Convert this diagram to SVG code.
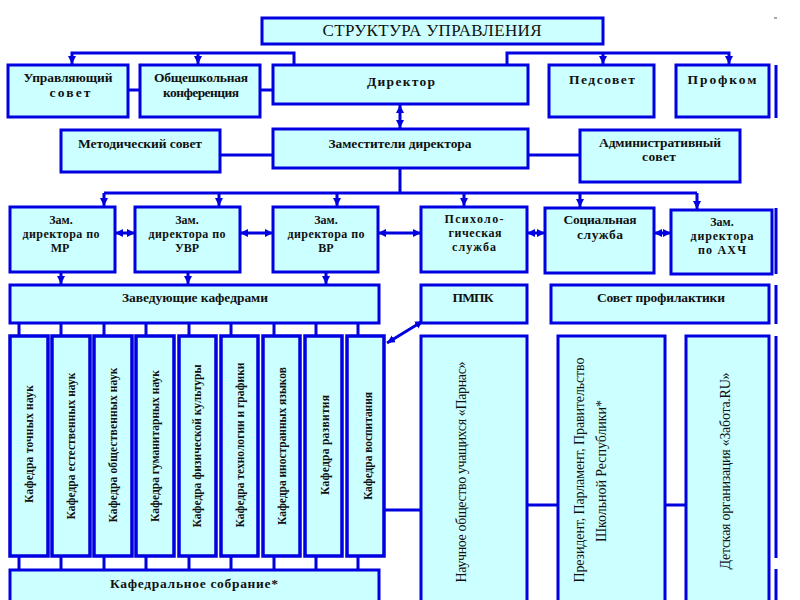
<svg xmlns="http://www.w3.org/2000/svg" width="800" height="600" viewBox="0 0 800 600">
<defs>
<marker id="ah" markerUnits="userSpaceOnUse" markerWidth="9" markerHeight="9" refX="8" refY="4" orient="auto-start-reverse">
<path d="M0,0 L8,4 L0,8 z" fill="#0000e0"/>
</marker>
<style>
.box{fill:#ccffff;stroke:#0000e0;stroke-width:3}
.col{fill:#ccffff;stroke:#0000e0;stroke-width:3.5}
.ln{fill:none;stroke:#0000e0;stroke-width:3}
.a1{marker-end:url(#ah)}
.a2{marker-start:url(#ah);marker-end:url(#ah)}
.b{font-family:"Liberation Serif","Times New Roman",serif;font-weight:bold;font-size:13.5px;text-anchor:middle;fill:#111}
.s{font-size:12px}
.k{font-family:"Liberation Serif","Times New Roman",serif;font-weight:bold;font-size:11.5px;text-anchor:middle;fill:#111}
.r{font-family:"Liberation Serif","Times New Roman",serif;font-size:14px;text-anchor:middle;fill:#111}
.t{font-family:"Liberation Serif","Times New Roman",serif;font-size:17px;text-anchor:middle;fill:#111}
</style>
</defs>
<rect width="800" height="600" fill="#ffffff"/>

<g id="connectors">
<path class="ln a1" d="M294,65 V53 H72 V64"/>
<path class="ln a1" d="M198,53 V64"/>
<path class="ln a1" d="M507,65 V53 H729 V64"/>
<path class="ln a1" d="M603,53 V64"/>
<path class="ln" d="M128,90 H140 M260,90 H273"/>
<path class="ln a2" d="M400,105 V128"/>
<path class="ln" d="M220,155 H273 M528,155 H580"/>
<path class="ln" d="M400,168 V193 M104,193 H697"/>
<path class="ln a1" d="M104,193 V206"/>
<path class="ln a1" d="M219,193 V206"/>
<path class="ln a1" d="M337,193 V206"/>
<path class="ln a1" d="M464,193 V206"/>
<path class="ln a1" d="M580,193 V207"/>
<path class="ln a1" d="M697,193 V209"/>
<path class="ln a2" d="M115,233 H135"/>
<path class="ln a2" d="M240,233 H273"/>
<path class="ln a2" d="M378,233 H421"/>
<path class="ln a2" d="M527,233 H545"/>
<path class="ln a2" d="M654,233 H671"/>
<path class="ln a1" d="M61,272 V284"/>
<path class="ln a1" d="M188,272 V284"/>
<path class="ln a1" d="M326,272 V284"/>
<path class="ln" d="M19,323 V336 M61,323 V336 M104,323 V336 M146,323 V336 M189,323 V336 M231,323 V336 M274,323 V336 M316,323 V336 M358,323 V336"/>
<path class="ln" d="M19,556 V570 M61,556 V570 M104,556 V570 M146,556 V570 M189,556 V570 M231,556 V570 M274,556 V570 M316,556 V570 M358,556 V570"/>
<path class="ln a2" d="M387,343 L423,321"/>
<path class="ln" d="M384,510 H421 M527,505 H558 M665,505 H686"/>
<path class="ln" d="M776,65 V118 M776,208 V274 M776,285 V324 M776,336 V558 M776,569 V600"/>
<path d="M774,18 H777" stroke="#555" stroke-width="1"/>
</g>

<g id="title"><rect class="box" x="262" y="18" width="341" height="26"/><text class="t" x="432" y="36" textLength="219">СТРУКТУРА УПРАВЛЕНИЯ</text></g>

<g id="upr"><rect class="box" x="8" y="65" width="120" height="52"/><text class="b" x="68" y="82" textLength="89">Управляющий</text><text class="b" x="70" y="97" textLength="41">совет</text></g>
<g id="konf"><rect class="box" x="140" y="65" width="120" height="52"/><text class="b" x="201" y="82" textLength="94">Общешкольная</text><text class="b" x="201" y="97" textLength="76">конференция</text></g>
<g id="dir"><rect class="box" x="273" y="65" width="255" height="39"/><text class="b" x="401" y="86" textLength="68">Директор</text></g>
<g id="ped"><rect class="box" x="549" y="65" width="105" height="52"/><text class="b" x="602" y="84" textLength="66">Педсовет</text></g>
<g id="prof"><rect class="box" x="676" y="65" width="93" height="52"/><text class="b" x="722" y="84" textLength="69">Профком</text></g>

<g id="met"><rect class="box" x="61" y="130" width="159" height="42"/><text class="b" x="140" y="148" textLength="124">Методический совет</text></g>
<g id="zam"><rect class="box" x="273" y="129" width="255" height="39"/><text class="b" x="400" y="148" textLength="143">Заместители директора</text></g>
<g id="adm"><rect class="box" x="580" y="130" width="160" height="52"/><text class="b" x="660" y="147" textLength="122">Административный</text><text class="b" x="659" y="161" textLength="34">совет</text></g>

<g id="mr"><rect class="box" x="10" y="207" width="105" height="65"/><text class="b s" x="61" y="224">Зам.</text><text class="b s" x="61" y="238" textLength="77">директора по</text><text class="b s" x="60" y="252">МР</text></g>
<g id="uvr"><rect class="box" x="135" y="207" width="105" height="65"/><text class="b s" x="187" y="224">Зам.</text><text class="b s" x="187" y="238" textLength="77">директора по</text><text class="b s" x="187" y="252">УВР</text></g>
<g id="vr"><rect class="box" x="273" y="207" width="105" height="65"/><text class="b s" x="326" y="224">Зам.</text><text class="b s" x="326" y="238" textLength="77">директора по</text><text class="b s" x="326" y="252">ВР</text></g>
<g id="psy"><rect class="box" x="421" y="207" width="106" height="65"/><text class="b s" x="474" y="223" textLength="59">Психоло-</text><text class="b s" x="475" y="237" textLength="53">гическая</text><text class="b s" x="474" y="251" textLength="44">служба</text></g>
<g id="soc"><rect class="box" x="545" y="208" width="109" height="65"/><text class="b" x="600" y="224" textLength="73">Социальная</text><text class="b" x="600" y="239" textLength="46">служба</text></g>
<g id="ahch"><rect class="box" x="671" y="210" width="101" height="64"/><text class="b s" x="722" y="226">Зам.</text><text class="b s" x="722" y="240" textLength="63">директора</text><text class="b s" x="722" y="254" textLength="48">по АХЧ</text></g>

<g id="zav"><rect class="box" x="10" y="285" width="369" height="38"/><text class="b" x="195" y="302" textLength="146">Заведующие кафедрами</text></g>
<g id="pmpk"><rect class="box" x="421" y="285" width="106" height="38"/><text class="b" x="473" y="302" textLength="41">ПМПК</text></g>
<g id="sovprof"><rect class="box" x="551" y="285" width="218" height="38"/><text class="b" x="661" y="302" textLength="128">Совет профилактики</text></g>

<g id="k1"><rect class="col" x="10" y="336" width="38" height="220"/><text class="k" transform="translate(33,444) rotate(-90)" textLength="118">Кафедра точных наук</text></g>
<g id="k2"><rect class="col" x="52" y="336" width="38" height="220"/><text class="k" transform="translate(75,446) rotate(-90)" textLength="147">Кафедра естественных наук</text></g>
<g id="k3"><rect class="col" x="94" y="336" width="38" height="220"/><text class="k" transform="translate(117,445) rotate(-90)" textLength="155">Кафедра общественных  наук</text></g>
<g id="k4"><rect class="col" x="136" y="336" width="38" height="220"/><text class="k" transform="translate(159,446) rotate(-90)" textLength="152">Кафедра гуманитарных наук</text></g>
<g id="k5"><rect class="col" x="179" y="336" width="37" height="220"/><text class="k" transform="translate(201,446) rotate(-90)" textLength="163">Кафедра физической культуры</text></g>
<g id="k6"><rect class="col" x="221" y="336" width="37" height="220"/><text class="k" transform="translate(244,445) rotate(-90)" textLength="165">Кафедра технологии и графики</text></g>
<g id="k7"><rect class="col" x="263" y="336" width="37" height="220"/><text class="k" transform="translate(286,446) rotate(-90)" textLength="158">Кафедра иностранных языков</text></g>
<g id="k8"><rect class="col" x="305" y="336" width="37" height="220"/><text class="k" transform="translate(329,445) rotate(-90)" textLength="100">Кафедра развития</text></g>
<g id="k9"><rect class="col" x="347" y="336" width="37" height="220"/><text class="k" transform="translate(372,446) rotate(-90)" textLength="108">Кафедра воспитания</text></g>

<g id="sobr"><rect class="box" x="10" y="570" width="369" height="40"/><text class="b" x="194" y="588" textLength="168">Кафедральное собрание*</text></g>

<g id="nou"><rect class="box" x="421" y="336" width="106" height="274"/><text class="r" transform="translate(466,472) rotate(-90)" textLength="221">Научное общество учащихся «Парнас»</text></g>
<g id="pres"><rect class="box" x="558" y="336" width="107" height="274"/><text class="r" transform="translate(584,470) rotate(-90)" textLength="225">Президент, Парламент, Правительство</text><text class="r" transform="translate(606,471) rotate(-90)" textLength="142">Школьной Республики*</text></g>
<g id="det"><rect class="box" x="686" y="336" width="83" height="274"/><text class="r" transform="translate(730,471) rotate(-90)" textLength="197">Детская организация «Забота.RU»</text></g>
</svg>
